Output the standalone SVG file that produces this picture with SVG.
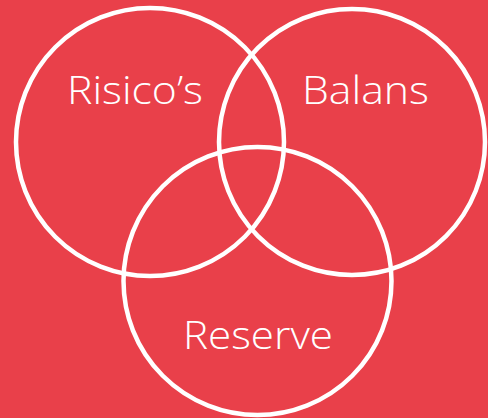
<svg xmlns="http://www.w3.org/2000/svg" width="488" height="418" viewBox="0 0 488 418">
<style>
.c{fill:none;stroke:#ffffff;stroke-width:4.5}
.t{fill:#ffffff;font-family:"Open Sans","Inter","Liberation Sans",sans-serif;font-weight:300;font-size:39px;text-anchor:middle}
</style>
<rect width="488" height="418" fill="#E9404A"/>
<g id="risicos"><circle class="c" cx="150" cy="142" r="134"/><text class="t" x="135" y="104" textLength="136" lengthAdjust="spacingAndGlyphs">Risico’s</text></g>
<g id="balans"><circle class="c" cx="352" cy="142" r="133"/><text class="t" x="365.5" y="104" textLength="127" lengthAdjust="spacingAndGlyphs">Balans</text></g>
<g id="reserve"><circle class="c" cx="257.5" cy="281" r="134"/><text class="t" x="258" y="349" textLength="150" lengthAdjust="spacingAndGlyphs">Reserve</text></g>
<g id="connectors"/>
</svg>
